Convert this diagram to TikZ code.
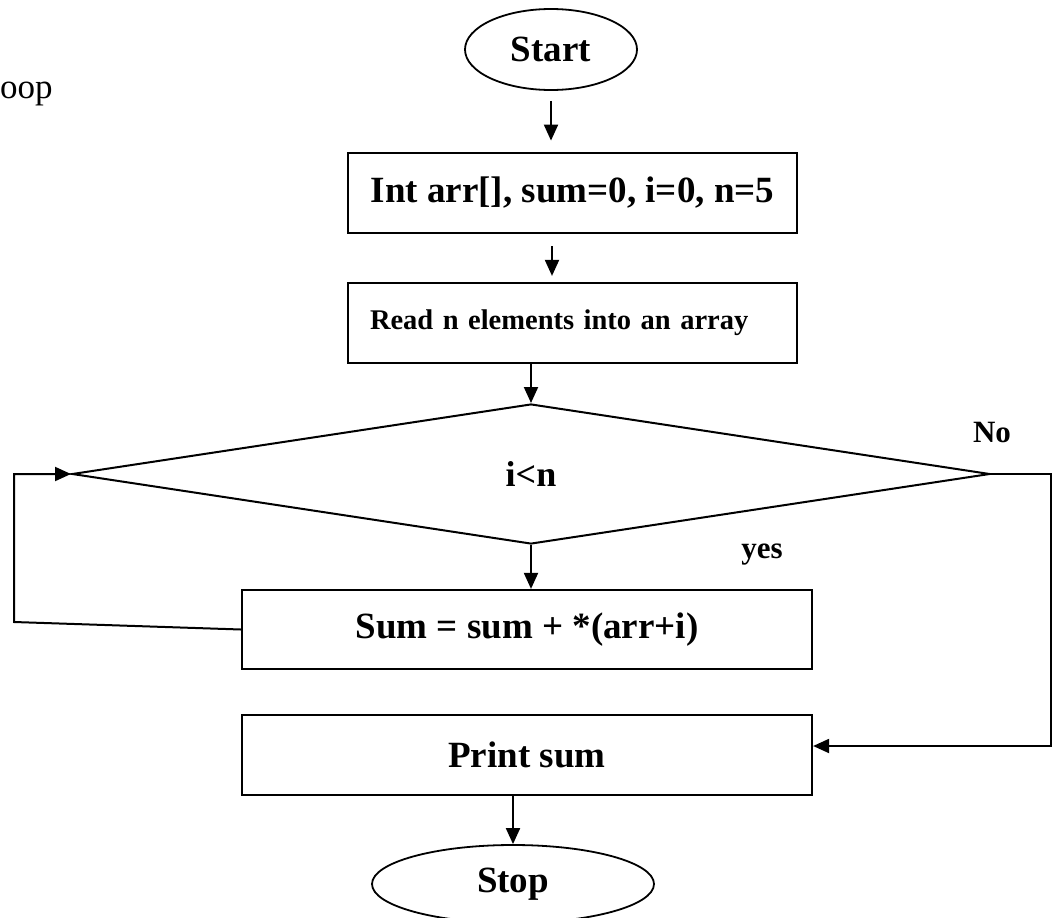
\documentclass[tikz,border=0pt]{standalone}
\usepackage{fontspec}
\setmainfont{Liberation Serif}
\usetikzlibrary{shapes.geometric,arrows.meta}
\begin{document}
\begin{tikzpicture}[x=1pt,y=-1pt,
  terminal/.style={ellipse,draw,line width=1.8pt,inner sep=0pt,font=\bfseries\fontsize{37}{40}\selectfont},
  procbox/.style={rectangle,draw,line width=2.2pt,inner sep=0pt,font=\bfseries\fontsize{37}{42}\selectfont},
  decision/.style={diamond,draw,line width=2pt,inner sep=0pt,font=\bfseries\fontsize{36}{40}\selectfont},
  flow/.style={line width=2pt,-{Triangle[length=16pt,width=14pt]}},
  branch/.style={font=\bfseries\fontsize{31}{34}\selectfont}
]
\useasboundingbox (0,0) rectangle (1052,918);

% heading fragment
\node[font=\fontsize{35}{38}\selectfont, anchor=base west, inner sep=0pt] (title) at (0,98) {oop};

% flowchart blocks
\node[terminal, minimum width=172pt, minimum height=81pt] (start) at (551,49.5) {Start};
\node[procbox, line width=2.8pt, minimum width=449pt, minimum height=80pt] (init) at (572.5,193) {Int arr[], sum=0, i=0, n=5};
\node[procbox, minimum width=449pt, minimum height=80pt, text width=405pt, align=left,
      font=\bfseries\fontsize{28.5}{32}\selectfont] (read) at (572.5,323) {Read n elements into an array};
\node[decision, minimum width=918pt, minimum height=140pt, aspect=6.56] (test) at (531,474) {i<n};
\node[procbox, minimum width=570pt, minimum height=79pt] (body) at (527,629.5) {Sum = sum + *(arr+i)};
\node[procbox, minimum width=570pt, minimum height=80pt] (print) at (527,755) {Print sum};
\node[terminal, minimum width=282pt, minimum height=78pt] (stop) at (513,884) {Stop};

% branch labels
\node[branch] (nolabel) at (992,432) {No};
\node[branch] (yeslabel) at (762,555) {yes};

% connectors
\draw[flow, shorten <=10pt, shorten >=11pt] (start.south) -- (start.south |- init.north);
\draw[flow, shorten <=12pt, shorten >=6pt] ([xshift=-20.5pt]init.south) -- ([xshift=-20.5pt]init.south |- read.north);
\draw[flow] (read.south -| test.north) -- (test.north);
\draw[flow] (test.south) -- (test.south |- body.north);

\coordinate (loopturn) at (14,622);
\draw[flow] (body.west) -- (loopturn) |- (test.west);

\coordinate (exitturn) at (1051,746);
\draw[flow] (test.east) -- (test.east -| exitturn) -- (exitturn) -- (exitturn -| print.east);

\draw[flow] (stop.north |- print.south) -- (stop.north);
\end{tikzpicture}
\end{document}
